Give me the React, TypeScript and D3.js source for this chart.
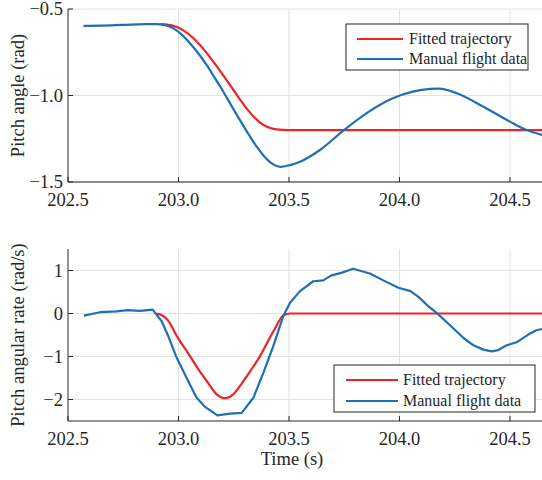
import React from "react";
import * as d3 from "d3";

const W = 542;
const H = 480;

const xTicks = [202.5, 203.0, 203.5, 204.0, 204.5];
const topYTicks = [-0.5, -1.0, -1.5];
const botYTicks = [1, 0, -1, -2];
const legendLabels = ["Fitted trajectory", "Manual flight data"];

const angleFitT = [202.92, 202.97, 203.02, 203.07, 203.12, 203.17, 203.22, 203.27, 203.32, 203.37, 203.42, 203.47, 203.52, 204.7];
const angleFitV = [-0.587, -0.595, -0.622, -0.672, -0.742, -0.826, -0.915, -1.008, -1.093, -1.158, -1.19, -1.199, -1.2, -1.2];

const angleManT = [202.57, 202.65, 202.75, 202.85, 202.9, 202.94, 202.977, 203.015, 203.052, 203.09, 203.128, 203.165, 203.203, 203.24, 203.278, 203.316, 203.354, 203.39, 203.429, 203.462, 203.5, 203.55, 203.64, 203.746, 203.85, 203.97, 204.06, 204.14, 204.18, 204.26, 204.38, 204.5, 204.575, 204.645];
const angleManV = [-0.597, -0.596, -0.592, -0.588, -0.587, -0.593, -0.612, -0.648, -0.698, -0.757, -0.824, -0.9, -0.978, -1.06, -1.142, -1.222, -1.296, -1.355, -1.398, -1.412, -1.404, -1.383, -1.315, -1.203, -1.103, -1.016, -0.978, -0.962, -0.96, -0.987, -1.065, -1.151, -1.2, -1.228];

const rateFitT = [202.9, 202.925, 202.954, 202.992, 203.052, 203.09, 203.128, 203.173, 203.21, 203.248, 203.29, 203.33, 203.369, 203.429, 203.474, 203.505, 204.7];
const rateFitV = [0, -0.04, -0.17, -0.52, -0.99, -1.3, -1.57, -1.88, -1.97, -1.88, -1.6, -1.3, -0.99, -0.42, -0.05, 0, 0];

const rateManT = [202.572, 202.645, 202.72, 202.77, 202.826, 202.883, 202.924, 202.954, 202.992, 203.037, 203.082, 203.12, 203.176, 203.233, 203.286, 203.339, 203.384, 203.429, 203.474, 203.505, 203.55, 203.61, 203.655, 203.69, 203.74, 203.79, 203.866, 203.927, 203.995, 204.05, 204.09, 204.13, 204.176, 204.23, 204.29, 204.335, 204.38, 204.417, 204.447, 204.485, 204.53, 204.583, 204.62, 204.645];
const rateManV = [-0.05, 0.03, 0.05, 0.08, 0.06, 0.09, -0.18, -0.53, -1.03, -1.5, -1.96, -2.17, -2.37, -2.33, -2.31, -1.96, -1.38, -0.76, -0.06, 0.25, 0.52, 0.75, 0.77, 0.88, 0.95, 1.04, 0.93, 0.77, 0.6, 0.52, 0.37, 0.17, -0.02, -0.28, -0.57, -0.74, -0.84, -0.88, -0.85, -0.74, -0.67, -0.49, -0.39, -0.36];

const RED = "#EE2326";
const BLUE = "#1F6FB5";
const AXIS = "#262626";
const GRID = "#e2e2e2";
const FONT = "'Liberation Serif', 'Times New Roman', serif";

const x = d3.scaleLinear().domain([202.5, 204.645]).range([68, 542]);

type PanelProps = {
  yDomain: [number, number];
  yRange: [number, number];
  yTicks: number[];
  yFmt: (v: number) => string;
  fitT: number[]; fitV: number[];
  manT: number[]; manV: number[];
  manCurve: any;
  ylabel: string;
  legend: { x0: number; y0: number; x1: number; y1: number; lx0: number; lx1: number; tx: number; rows: number[] };
  clipId: string;
};

function Panel(p: PanelProps) {
  const y = d3.scaleLinear().domain(p.yDomain).range(p.yRange);
  const [yb, yt] = p.yRange;
  const mk = (ts: number[], vs: number[], curve: any) =>
    d3.line<number>().x((_, i) => x(ts[i])).y((v) => y(v)).curve(curve)(vs) || "";
  const minus = (s: string) => s.replace("-", "\u2212");
  return (
    <g>
      <defs>
        <clipPath id={p.clipId}>
          <rect x={68} y={yt - 2} width={W - 68} height={yb - yt + 4} />
        </clipPath>
      </defs>
      {xTicks.slice(1).map((t) => (
        <line key={"gx" + t} x1={x(t)} x2={x(t)} y1={yt} y2={yb} stroke={GRID} strokeWidth={1} />
      ))}
      {p.yTicks.map((t) => (
        <line key={"gy" + t} x1={68} x2={W} y1={y(t)} y2={y(t)} stroke={GRID} strokeWidth={1} />
      ))}
      <g clipPath={`url(#${p.clipId})`}>
        <path d={mk(p.fitT, p.fitV, d3.curveMonotoneX)} fill="none" stroke={RED} strokeWidth={2.2} />
        <path d={mk(p.manT, p.manV, p.manCurve)} fill="none" stroke={BLUE} strokeWidth={2.2} strokeLinejoin="round" />
      </g>
      <line x1={68} x2={W} y1={yb} y2={yb} stroke={AXIS} strokeWidth={1} />
      <line x1={68} x2={68} y1={yt} y2={yb} stroke={AXIS} strokeWidth={1} />
      {xTicks.map((t) => (
        <g key={"tx" + t}>
          <line x1={x(t)} x2={x(t)} y1={yb} y2={yb - 5} stroke={AXIS} strokeWidth={1} />
          <text x={x(t)} y={yb + 23.5} textAnchor="middle" fontFamily={FONT} fontSize={18.5} fill={AXIS}>
            {t.toFixed(1)}
          </text>
        </g>
      ))}
      {p.yTicks.map((t) => (
        <g key={"ty" + t}>
          <line x1={68} x2={73} y1={y(t)} y2={y(t)} stroke={AXIS} strokeWidth={1} />
          <text x={63} y={y(t)} dy="0.35em" textAnchor="end" fontFamily={FONT} fontSize={18.5} fill={AXIS}>
            {minus(p.yFmt(t))}
          </text>
        </g>
      ))}
      <text
        transform={`translate(24,${(yt + yb) / 2}) rotate(-90)`}
        textAnchor="middle"
        fontFamily={FONT}
        fontSize={18.5}
        fill={AXIS}
      >
        {p.ylabel}
      </text>
      <rect x={p.legend.x0} y={p.legend.y0} width={p.legend.x1 - p.legend.x0} height={p.legend.y1 - p.legend.y0} fill="#fff" stroke={AXIS} strokeWidth={1} />
      {legendLabels.map((lab, i) => (
        <g key={lab}>
          <line x1={p.legend.lx0} x2={p.legend.lx1} y1={p.legend.rows[i]} y2={p.legend.rows[i]} stroke={i === 0 ? RED : BLUE} strokeWidth={2.2} />
          <text x={p.legend.tx} y={p.legend.rows[i]} dy="0.33em" fontFamily={FONT} fontSize={16} fill={AXIS}>
            {lab}
          </text>
        </g>
      ))}
    </g>
  );
}

export default function App() {
  return (
    <svg width={W} height={H} style={{ position: "fixed", left: 0, top: 0, background: "#fff" }}>
      <rect width={W} height={H} fill="#fff" />
      <Panel
        yDomain={[-1.5, -0.5]}
        yRange={[182, 9]}
        yTicks={topYTicks}
        yFmt={(v) => v.toFixed(1)}
        fitT={angleFitT} fitV={angleFitV}
        manT={angleManT} manV={angleManV}
        manCurve={d3.curveMonotoneX}
        ylabel="Pitch angle (rad)"
        legend={{ x0: 346, y0: 24, x1: 528, y1: 70, lx0: 357, lx1: 403, tx: 409, rows: [39, 59] }}
        clipId="clipTop"
      />
      <Panel
        yDomain={[-2.5, 1.5]}
        yRange={[421, 249]}
        yTicks={botYTicks}
        yFmt={(v) => String(v)}
        fitT={rateFitT} fitV={rateFitV}
        manT={rateManT} manV={rateManV}
        manCurve={d3.curveLinear}
        ylabel="Pitch angular rate (rad/s)"
        legend={{ x0: 334, y0: 365, x1: 535, y1: 412, lx0: 346, lx1: 398, tx: 403, rows: [380, 401] }}
        clipId="clipBot"
      />
      <text x={292} y={465} textAnchor="middle" fontFamily={FONT} fontSize={18.5} fill={AXIS}>
        Time (s)
      </text>
    </svg>
  );
}
